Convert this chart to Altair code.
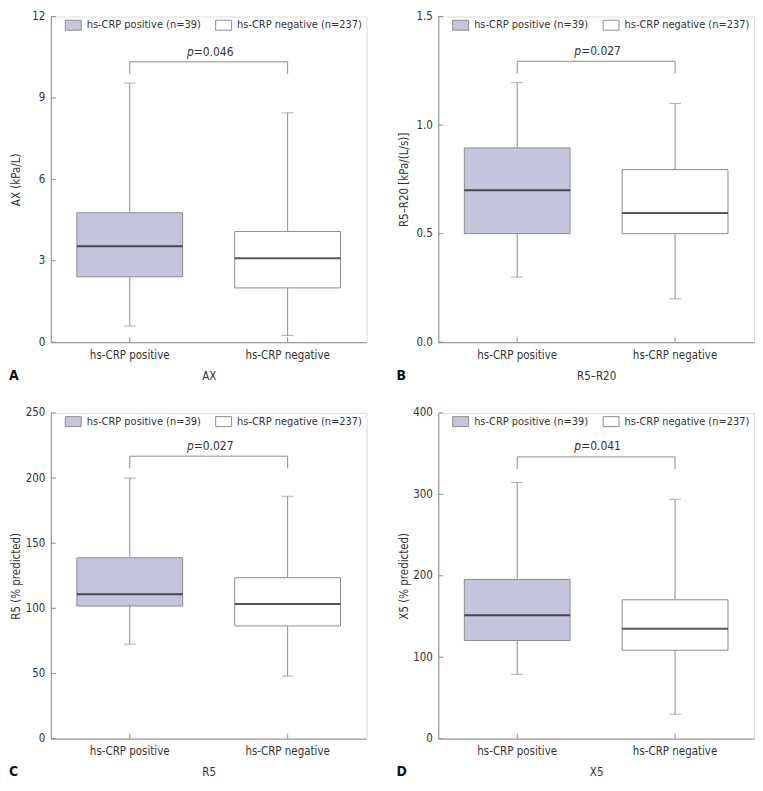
import altair as alt
import pandas as pd

# ---------------- data ----------------
groups = ["hs-CRP positive", "hs-CRP negative"]
n_values = [39, 237]
panel_letters = ["A", "B", "C", "D"]
x_titles = ["AX", "R5\u2013R20", "R5", "X5"]
y_titles = ["AX (kPa/L)", "R5\u2013R20 [kPa/(L/s)]", "R5 (% predicted)", "X5 (% predicted)"]
y_max = [12, 1.5, 250, 400]
y_ticks = [[0, 3, 6, 9, 12], [0, 0.5, 1.0, 1.5], [0, 50, 100, 150, 200, 250], [0, 100, 200, 300, 400]]
y_formats = ["d", ".1f", "d", "d"]

# [positive, negative] per panel
whisker_low = [[0.6, 0.25], [0.30, 0.20], [72.5, 48], [79, 30]]
q1 = [[2.41, 2.0], [0.50, 0.50], [101.8, 86.5], [120.5, 108.5]]
median = [[3.54, 3.09], [0.70, 0.595], [110.8, 103.3], [151.5, 135]]
q3 = [[4.77, 4.08], [0.895, 0.795], [138.8, 123.5], [195.5, 170.5]]
whisker_high = [[9.55, 8.45], [1.195, 1.10], [200, 186], [314.5, 294]]

p_values = ["0.046", "0.027", "0.027", "0.041"]
bracket_top = [10.33, 1.294, 216.8, 346]
bracket_drop = [9.88, 1.237, 207.3, 331]
p_label_y = [10.71, 1.341, 224.3, 359]

# ---------------- style ----------------
W, H = 317, 327
FONT = "'DejaVu Sans Condensed', sans-serif"
FS = 11.5
LFS = 11
GRAY = "#8c8c8c"
LAV = "#c6c5de"
TXT = "#333333"
BOX_W = W / 2 * 0.67

legend_labels = [f"{g} (n={n})" for g, n in zip(groups, n_values)]


def panel(i):
    df = pd.DataFrame({
        "group": groups,
        "legend": legend_labels,
        "low": whisker_low[i],
        "q1": q1[i],
        "med": median[i],
        "q3": q3[i],
        "high": whisker_high[i],
        "yb": [bracket_top[i]] * 2,
        "yd": [bracket_drop[i]] * 2,
    })
    br = pd.DataFrame({"x1": [groups[0]], "x2": [groups[1]], "yb": [bracket_top[i]],
                       "py": [p_label_y[i]], "p": ["p"], "rest": ["=" + p_values[i]]})
    tk = pd.DataFrame({"v": y_ticks[i]})

    yscale = alt.Scale(domain=[0, y_max[i]], nice=False, zero=True)
    yaxis = alt.Axis(values=y_ticks[i], format=y_formats[i], ticks=False, grid=False,
                     domainColor=GRAY, labelPadding=6, labelColor=TXT, labelFontSize=FS,
                     labelFont=FONT, title=y_titles[i], titleFont=FONT, titleFontSize=FS,
                     titleFontWeight="normal", titleColor=TXT, titleX=-29)
    xscale = alt.Scale(domain=groups, paddingInner=0, paddingOuter=0)
    xaxis = alt.Axis(title=x_titles[i], ticks=False, labelAngle=0, labelPadding=7,
                     domainColor=GRAY, labelColor=TXT, labelFontSize=FS, labelFont=FONT,
                     titleFont=FONT, titleFontSize=FS, titleFontWeight="normal",
                     titleColor=TXT, titlePadding=10, grid=False)

    def X(field="group"):
        return alt.X(f"{field}:N", sort=groups, scale=xscale, axis=xaxis)

    def Y(field):
        return alt.Y(f"{field}:Q", scale=yscale, axis=yaxis)

    base = alt.Chart(df)

    whisk_lo = base.mark_rule(color=GRAY, strokeWidth=1).encode(x=X(), y=Y("low"), y2="q1:Q")
    whisk_hi = base.mark_rule(color=GRAY, strokeWidth=1).encode(x=X(), y=Y("q3"), y2="high:Q")
    cap_lo = base.mark_tick(color=GRAY, size=12, thickness=1, orient="horizontal").encode(x=X(), y=Y("low"))
    cap_hi = base.mark_tick(color=GRAY, size=12, thickness=1, orient="horizontal").encode(x=X(), y=Y("high"))
    box = base.mark_bar(width=alt.RelativeBandSize(0.67), stroke=GRAY, strokeWidth=1).encode(
        x=X(), y=Y("q1"), y2="q3:Q",
        fill=alt.Fill("legend:N", sort=legend_labels,
                      scale=alt.Scale(domain=legend_labels, range=[LAV, "#ffffff"]),
                      legend=alt.Legend(title=None, orient="none", legendX=14, legendY=0,
                                        direction="horizontal", padding=0,
                                        symbolType="M-1,-0.625H1V0.625H-1Z", symbolSize=256,
                                        symbolStrokeColor=GRAY, symbolStrokeWidth=1,
                                        labelOffset=5, columnPadding=12, labelFont=FONT,
                                        labelFontSize=LFS, labelColor=TXT)))
    med = base.mark_tick(color="#111111", size=BOX_W, thickness=2, orient="horizontal").encode(
        x=X(), y=Y("med"))

    drops = base.mark_rule(color=GRAY, strokeWidth=1).encode(x=X(), y=Y("yb"), y2="yd:Q")
    bridge = alt.Chart(br).mark_rule(color=GRAY, strokeWidth=1).encode(
        x=X("x1"), x2="x2:N", y=Y("yb"))
    p_it = alt.Chart(br).mark_text(font=FONT, fontSize=FS + 0.5, fontStyle="italic", color=TXT,
                                   align="right", baseline="middle", dx=-15).encode(
        x=alt.value(W / 2), y=Y("py"), text="p:N")
    p_rest = alt.Chart(br).mark_text(font=FONT, fontSize=FS + 0.5, color=TXT, align="left",
                                     baseline="middle", dx=-15).encode(
        x=alt.value(W / 2), y=Y("py"), text="rest:N")

    ytick = alt.Chart(tk).mark_rule(color=GRAY, strokeWidth=1).encode(
        y=Y("v"), x=alt.value(0), x2=alt.value(5))
    xtick = base.mark_rule(color=GRAY, strokeWidth=1).encode(
        x=X(), y=alt.value(H), y2=alt.value(H - 5))

    letter = alt.Chart(pd.DataFrame({"t": [panel_letters[i]]})).mark_text(
        font=FONT, fontSize=14, fontWeight="bold", color="#111111", align="left",
        baseline="middle").encode(x=alt.value(-42), y=alt.value(H + 34), text="t:N")

    return alt.layer(whisk_lo, whisk_hi, cap_lo, cap_hi, box, med, drops, bridge,
                     p_it, p_rest, ytick, xtick, letter).properties(width=W, height=H)


chart = alt.concat(panel(0), panel(1), panel(2), panel(3), columns=2,
                   spacing={"row": 22, "column": 28}
                   ).resolve_scale(fill="independent").resolve_legend(fill="independent").properties(
    padding=0).configure_view(stroke="transparent").configure(font=FONT)

chart.save("out.html", embed_options={"renderer": "svg", "actions": False})
